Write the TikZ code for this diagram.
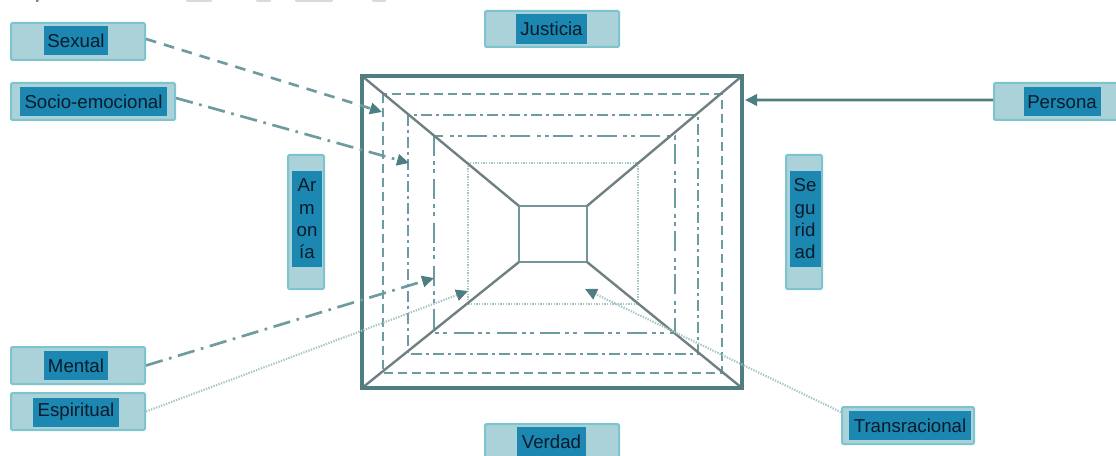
\documentclass[tikz,border=0pt]{standalone}
\usepackage{fontspec}
\setmainfont{Liberation Sans}
\usepackage{tikz}
\usetikzlibrary{shapes,arrows.meta}

\definecolor{boxfill}{RGB}{170,210,216}
\definecolor{boxline}{RGB}{126,196,207}
\definecolor{textfill}{RGB}{28,135,176}
\definecolor{textink}{RGB}{8,28,44}
\definecolor{frameline}{RGB}{78,125,130}
\definecolor{dashline}{RGB}{110,155,160}
\definecolor{diagline}{RGB}{112,128,130}
\definecolor{dotline}{RGB}{165,198,200}
\definecolor{scrapgray}{RGB}{218,218,218}

\tikzset{
  labelbox/.style={draw=boxline,fill=boxfill,line width=1.5pt,rounded corners=1pt,inner sep=0pt},
  labeltext/.style={fill=textfill,text=textink,inner sep=0pt,align=center,font=\fontsize{14}{16.75}\selectfont},
  dashconn/.style={draw=dashline,line width=2pt,dash pattern={on 8pt off 6pt}},
  dashdotconn/.style={draw=dashline,line width=2pt,dash pattern={on 13pt off 5pt on 2pt off 5pt}},
  dotconn/.style={draw=dotline,line width=1.6pt,dash pattern={on 1pt off 1pt}},
  tiptri/.style={-{Triangle[length=9pt,width=8.5pt,color=frameline]}}
}

\begin{document}
\begin{tikzpicture}[x=0.75pt,y=0.75pt,yscale=-1,xscale=1]
\useasboundingbox (0,0) rectangle (1116,456);

%scraps at the top edge
\fill [scrapgray] (185,-1) -- (213,-1) -- (211,2) -- (187,2) -- cycle;
\fill [scrapgray] (255,-1) -- (272,-1) -- (270,2) -- (257,2) -- cycle;
\fill [scrapgray] (294,-1) -- (334,-1) -- (332,2) -- (296,2) -- cycle;
\fill [scrapgray] (371,-1) -- (387,-1) -- (385,2) -- (373,2) -- cycle;
\fill [gray] (36,-1) -- (39,-1) -- (38,2) -- (36,2) -- cycle;

%corners of the squares
\coordinate (outernw) at (362,76);
\coordinate (outerne) at (742,76);
\coordinate (outerse) at (742,388);
\coordinate (outersw) at (362,388);
\coordinate (innernw) at (519,206);
\coordinate (innerne) at (587,206);
\coordinate (innerse) at (587,262);
\coordinate (innersw) at (519,262);

%arrow ends
\coordinate (sexualtip) at (382,112);
\coordinate (sociotip) at (409,163);
\coordinate (mentaltip) at (434,278);
\coordinate (espiritualtip) at (468,291);
\coordinate (transtip) at (585,289);
\coordinate (personatip) at (745,100);

%Squares
\draw [draw=dashline,line width=2pt,dash pattern={on 6.5pt off 4pt}] (383,94) rectangle (722,373);
\draw [draw=dashline,line width=2pt,dash pattern={on 8pt off 3pt on 2.5pt off 3pt}] (408,115) rectangle (698,354);
\draw [draw=dashline,line width=2pt,dash pattern={on 15pt off 3.5pt on 3pt off 3pt on 3pt off 5pt}] (434,136) rectangle (675,333);
\draw [dotconn] (468,163) rectangle (638,304);
\draw [draw=frameline!80,line width=1.6pt] (innernw) rectangle (innerse);

%Diagonals
\draw [draw=diagline,line width=1.8pt] (outernw) -- (innernw);
\draw [draw=diagline,line width=1.8pt] (outerne) -- (innerne);
\draw [draw=diagline,line width=1.8pt] (outerse) -- (innerse);
\draw [draw=diagline,line width=1.8pt] (outersw) -- (innersw);
\draw [draw=frameline,line width=2.8pt] (outernw) rectangle (outerse);

% Box Nodes
\node [labelbox,minimum width=100.5pt,minimum height=27.75pt] (sexual) at (78,41.5) {};
\node [labeltext,minimum width=48pt,minimum height=21.75pt] (sexualtext) at (76,40.5) {Sexual};
\node [labelbox,minimum width=123pt,minimum height=27.75pt] (socio) at (93,101.5) {};
\node [labeltext,minimum width=110.25pt,minimum height=21.75pt] (sociotext) at (93.5,102) {Socio-emocional};
\node [labelbox,minimum width=27pt,minimum height=100.5pt] (armonia) at (306,222) {};
\node [labeltext,minimum width=22.5pt,minimum height=72pt] (armoniatext) at (307,219) {Ar\\m\\on\\ía};
\node [labelbox,minimum width=100.5pt,minimum height=27pt] (justicia) at (552,29) {};
\node [labeltext,minimum width=53pt,minimum height=22.5pt] (justiciatext) at (551.5,29) {Justicia};
\node [labelbox,minimum width=100.5pt,minimum height=27pt] (verdad) at (552,442) {};
\node [labeltext,minimum width=52pt,minimum height=22.5pt] (verdadtext) at (551.5,442) {Verdad};
\node [labelbox,minimum width=27pt,minimum height=100.5pt] (seguridad) at (804,222) {};
\node [labeltext,minimum width=23.25pt,minimum height=72pt] (seguridadtext) at (805,219) {Se\\gu\\rid\\ad};
\node [labelbox,minimum width=100.5pt,minimum height=27.75pt] (persona) at (1061,101.5) {};
\node [labeltext,minimum width=57.75pt,minimum height=21.75pt] (personatext) at (1062,102) {Persona};
\node [labelbox,minimum width=100.5pt,minimum height=27.75pt] (mental) at (78,365.5) {};
\node [labeltext,minimum width=48pt,minimum height=21.75pt] (mentaltext) at (76,365.5) {Mental};
\node [labelbox,minimum width=100.5pt,minimum height=27.75pt] (espiritual) at (78,411.5) {};
\node [labeltext,minimum width=64.5pt,minimum height=21.75pt] (espiritualtext) at (76,412) {Espiritual};
\node [labelbox,minimum width=99pt,minimum height=27.75pt] (transracional) at (908,425.5) {};
\node [labeltext,minimum width=91.5pt,minimum height=21.75pt] (transracionaltext) at (910,425.5) {Transracional};

%Connectors
\draw [dashconn,tiptri] ([yshift=-1.9pt]sexual.east) -- (sexualtip);
\draw [dashdotconn,tiptri] ([yshift=-2.6pt]socio.east) -- (sociotip);
\draw [dashdotconn,tiptri] (mental.east) -- (mentaltip);
\draw [dotconn,tiptri] (espiritual.east) -- (espiritualtip);
\draw [dotconn,tiptri] ([yshift=-10pt]transracional.west) -- (transtip);
\draw [draw=frameline,line width=2pt,tiptri] ([yshift=-1.1pt]persona.west) -- (personatip);

\end{tikzpicture}
\end{document}
